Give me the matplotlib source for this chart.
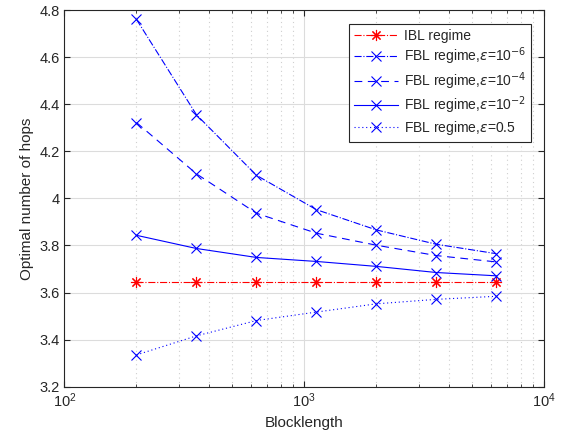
import numpy as np
import matplotlib
matplotlib.use('Agg')
import matplotlib.pyplot as plt
from matplotlib.ticker import FormatStrFormatter, LogLocator, NullFormatter

plt.rcParams['font.family'] = ['Liberation Sans', 'DejaVu Sans']
plt.rcParams['mathtext.fontset'] = 'dejavusans'

# datos
blocklength = [200, 355.7, 632.5, 1124.7, 2000, 3556.6, 6324.6]
ibl = [3.645, 3.645, 3.645, 3.645, 3.645, 3.645, 3.645]
fbl_1e6 = [4.760, 4.355, 4.098, 3.952, 3.866, 3.805, 3.765]
fbl_1e4 = [4.322, 4.104, 3.937, 3.852, 3.801, 3.757, 3.730]
fbl_1e2 = [3.843, 3.787, 3.749, 3.732, 3.711, 3.685, 3.671]
fbl_05 = [3.335, 3.416, 3.481, 3.517, 3.552, 3.571, 3.584]

txt = '#262626'

fig = plt.figure(figsize=(5.68, 4.43), dpi=100)
ax = fig.add_axes([0.1132, 0.1271, 0.9577 - 0.1132, 0.9774 - 0.1271])

kw = dict(ms=6.5, mew=0.8, lw=0.8)
ax.plot(blocklength, ibl, color='r', ls='-.', marker=(8, 2, 0),
        label='IBL regime', ms=8, mew=0.8, lw=0.8)
ax.plot(blocklength, fbl_1e6, color='b', ls='-.', marker='x',
        label=r'FBL regime,$\epsilon$=10$^{-6}$', **kw)
ax.plot(blocklength, fbl_1e4, color='b', ls=(0, (7, 5)), marker='x',
        label=r'FBL regime,$\epsilon$=10$^{-4}$', **kw)
ax.plot(blocklength, fbl_1e2, color='b', ls='-', marker='x',
        label=r'FBL regime,$\epsilon$=10$^{-2}$', **kw)
ax.plot(blocklength, fbl_05, color='b', ls=(0, (1, 2.5)), marker='x',
        label=r'FBL regime,$\epsilon$=0.5', **kw)

ax.set_xscale('log')
ax.set_xlim(1e2, 1e4)
ax.set_ylim(3.2, 4.8)
ax.set_yticks(np.arange(3.2, 4.81, 0.2))
ax.yaxis.set_major_formatter(FormatStrFormatter('%g'))
ax.xaxis.set_minor_locator(LogLocator(base=10, subs=np.arange(2, 10)))
ax.xaxis.set_minor_formatter(NullFormatter())

ax.grid(True, which='major', color='#dcdcdc', lw=0.8)
ax.grid(True, which='minor', axis='x', color='#cfcfcf', ls=(0, (1, 3)), lw=0.8)
ax.set_axisbelow(True)

ax.tick_params(which='both', direction='in', top=True, right=True,
               colors=txt, labelsize=10.5)
ax.tick_params(which='major', length=4)
ax.tick_params(which='minor', length=2.5)
for s in ax.spines.values():
    s.set_color(txt)
    s.set_linewidth(0.8)

ax.set_xlabel('Blocklength', fontsize=11, color=txt)
ax.set_ylabel('Optimal number of hops', fontsize=11, color=txt)

leg = ax.legend(loc='upper right', bbox_to_anchor=(0.973, 0.963), fontsize=10,
                handlelength=3.2, handletextpad=0.4, labelspacing=0.2,
                borderpad=0.35, borderaxespad=0, fancybox=False, framealpha=1)
leg.get_frame().set_edgecolor(txt)
leg.get_frame().set_linewidth(0.8)
for t in leg.get_texts():
    t.set_color(txt)

plt.savefig('out.png', dpi=100)
